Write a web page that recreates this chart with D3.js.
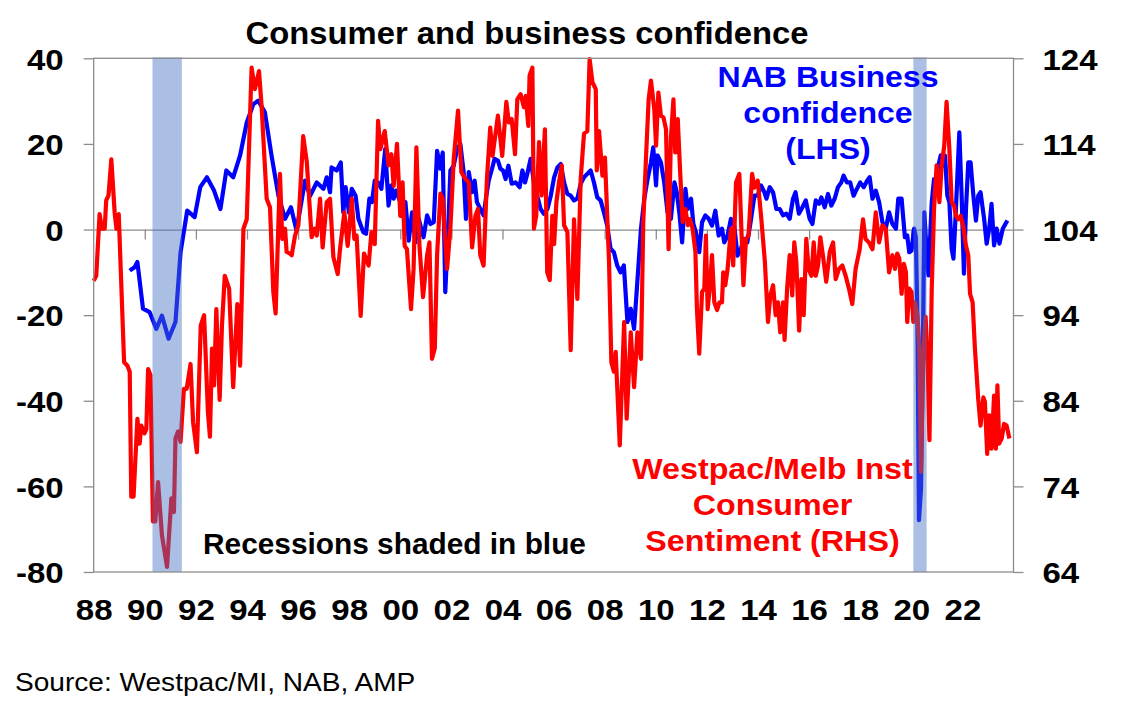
<!DOCTYPE html>
<html>
<head>
<meta charset="utf-8">
<script src="https://cdn.jsdelivr.net/npm/d3@7"></script>
<style>
  body { margin: 0; background: #fff; }
  text { font-family: "Liberation Sans", Arial, sans-serif; }
</style>
</head>
<body>
<svg id="chart" width="1124" height="712"></svg>
<script>
// Westpac/Melb Inst consumer sentiment (RHS index)
const sentimentYears = [
  1988.00,1988.10,1988.23,1988.32,1988.43,1988.49,1988.58,1988.69,1988.82,1988.89,1988.98,
  1989.19,1989.32,1989.41,1989.47,1989.56,1989.71,1989.80,1989.86,1989.99,
  1990.06,1990.13,1990.22,1990.32,1990.41,1990.52,1990.67,1990.87,
  1991.04,1991.14,1991.20,1991.30,1991.40,1991.53,1991.64,1991.79,1991.89,
  1992.04,1992.19,1992.32,1992.47,1992.55,1992.63,1992.71,1992.80,1992.93,
  1993.02,1993.13,1993.30,1993.46,1993.62,1993.73,1993.86,1993.99,
  1994.18,1994.31,1994.47,1994.57,1994.77,1994.90,
  1995.03,1995.12,1995.29,1995.38,1995.49,1995.55,1995.68,1995.75,1995.88,
  1996.01,1996.20,1996.34,1996.53,1996.64,1996.73,1996.86,1996.96,
  1997.12,1997.25,1997.38,1997.55,1997.64,1997.81,1997.94,
  1998.10,1998.20,1998.29,1998.45,1998.58,1998.76,1998.87,
  1999.00,1999.13,1999.22,1999.39,1999.54,1999.65,1999.74,1999.87,
  2000.00,2000.09,2000.17,2000.26,2000.42,2000.52,2000.63,2000.75,2000.89,
  2001.05,2001.14,2001.24,2001.35,2001.44,2001.57,2001.66,2001.83,2001.96,
  2002.09,2002.26,2002.39,2002.55,2002.68,2002.81,2002.94,
  2003.04,2003.13,2003.26,2003.39,2003.52,2003.61,2003.82,2003.99,
  2004.15,2004.25,2004.36,2004.49,2004.58,2004.71,2004.84,2004.91,
  2005.01,2005.06,2005.17,2005.23,2005.32,2005.43,2005.53,2005.66,2005.75,2005.85,2005.95,
  2006.02,2006.11,2006.21,2006.32,2006.41,2006.54,2006.67,2006.80,2006.93,
  2007.06,2007.19,2007.32,2007.41,2007.52,2007.65,2007.69,2007.78,2007.91,
  2008.01,2008.17,2008.26,2008.36,2008.43,2008.59,2008.76,2008.86,
  2009.02,2009.15,2009.28,2009.42,2009.51,2009.62,2009.72,2009.81,2009.94,
  2010.01,2010.10,2010.20,2010.30,2010.40,2010.50,2010.59,2010.69,2010.76,2010.86,2010.95,
  2011.05,2011.16,2011.25,2011.34,2011.44,2011.55,2011.61,2011.70,2011.81,2011.90,2011.96,
  2012.03,2012.12,2012.20,2012.29,2012.40,2012.49,2012.59,2012.64,2012.72,2012.81,2012.94,
  2013.03,2013.14,2013.27,2013.43,2013.53,2013.63,2013.77,2013.86,2013.99,
  2014.12,2014.27,2014.39,2014.48,2014.59,2014.69,2014.78,2014.87,2014.98,
  2015.04,2015.14,2015.24,2015.34,2015.42,2015.50,2015.61,2015.70,2015.79,2015.89,2015.98,
  2016.09,2016.18,2016.26,2016.35,2016.44,2016.54,2016.67,2016.81,2016.94,
  2017.04,2017.17,2017.30,2017.43,2017.56,2017.69,2017.82,2017.98,
  2018.11,2018.21,2018.34,2018.48,2018.61,2018.74,2018.87,
  2019.00,2019.13,2019.26,2019.36,2019.45,2019.53,2019.62,2019.71,2019.79,2019.84,2019.92,
  2020.01,2020.08,2020.14,2020.24,2020.31,2020.38,2020.47,2020.56,2020.64,2020.71,2020.80,2020.89,2020.99,
  2021.10,2021.19,2021.29,2021.38,2021.49,2021.58,2021.67,2021.75,2021.84,2021.93,
  2022.04,2022.14,2022.23,2022.30,2022.40,2022.49,2022.62,2022.71,2022.82,2022.88,2022.97,
  2023.05,2023.14,2023.24,2023.31,2023.37,2023.44,2023.54,2023.63,2023.73,2023.84
];
const sentimentIndex = [
  98.0,98.6,105.8,104.1,104.1,107.4,108.0,112.2,106.0,104.1,105.8,
  88.5,88.1,87.4,72.8,72.8,81.9,79.0,81.1,80.2,
  80.7,87.7,87.0,69.9,69.9,74.5,68.3,64.6,
  72.6,71.0,79.6,80.4,79.2,85.4,85.4,88.3,81.5,
  78.0,92.8,94.0,82.7,79.8,90.1,85.8,94.7,84.1,
  92.8,98.6,97.1,85.6,95.3,88.1,104.1,105.2,
  122.9,120.4,122.5,118.5,107.6,106.6,
  96.7,94.2,110.5,102.9,104.1,101.4,101.2,101.0,103.3,
  104.5,114.9,111.9,103.1,104.1,103.3,107.6,101.9,
  107.2,107.6,100.8,98.8,101.7,106.0,102.1,
  107.6,102.9,103.3,93.9,101.2,99.8,103.7,
  102.3,116.7,113.4,115.5,111.5,112.8,109.1,114.0,
  105.6,109.5,102.1,101.7,94.7,99.4,113.6,102.1,96.1,
  101.0,102.5,88.9,90.1,101.0,108.2,107.6,99.4,104.1,
  112.2,117.9,110.7,109.9,109.5,101.9,105.6,
  106.4,101.0,99.8,109.9,115.9,112.6,117.3,112.6,
  118.9,116.5,116.9,112.8,119.2,119.8,118.3,119.6,
  116.1,122.0,122.9,104.1,105.6,114.2,108.0,115.7,99.0,98.1,105.6,
  102.3,107.2,109.5,111.5,104.5,103.7,89.9,105.2,95.9,
  109.9,115.2,115.5,123.9,121.2,120.4,110.9,115.5,110.3,
  112.4,100.2,88.5,87.4,89.7,78.8,93.2,81.9,
  92.0,85.6,92.0,88.9,104.9,112.6,119.2,121.4,118.1,
  113.8,120.0,117.3,117.1,115.7,101.7,114.6,119.2,113.0,116.9,110.9,
  104.9,106.4,104.5,105.2,104.1,101.4,94.7,89.5,96.7,97.1,103.3,
  94.7,97.5,101.0,95.5,94.6,95.5,95.5,99.0,97.5,99.4,104.1,
  99.8,109.5,110.5,97.5,102.9,103.3,110.5,108.9,109.7,
  105.6,100.2,93.2,96.3,97.5,94.0,95.5,92.0,95.5,
  91.1,97.1,101.0,96.3,102.5,100.2,92.2,98.2,94.0,102.9,99.4,
  98.6,102.5,98.6,99.8,103.1,101.0,97.9,101.4,102.5,
  98.2,99.4,99.8,98.6,97.1,95.3,99.4,101.7,
  105.2,102.9,102.5,101.7,106.0,102.5,104.5,
  104.1,99.0,101.0,99.4,101.2,100.6,96.5,100.0,99.0,93.2,97.1,
  96.7,93.2,95.5,94.0,90.5,75.7,89.3,93.8,88.5,79.4,97.1,106.4,111.5,
  107.2,111.5,113.8,118.9,113.4,107.2,106.8,105.6,105.2,105.6,
  104.3,102.1,101.0,96.5,95.5,90.1,84.2,81.1,84.4,83.9,77.8,
  82.3,78.4,84.6,78.4,85.8,79.0,79.6,81.3,81.1,79.6
];

// NAB business confidence (LHS net balance)
const confidenceYears = [
  1989.41,1989.60,1989.71,1989.93,1990.19,1990.45,1990.67,1990.93,1991.20,1991.40,1991.66,1991.95,
  1992.17,1992.43,1992.71,1992.96,1993.19,1993.46,1993.73,1993.99,1994.25,1994.44,1994.70,1994.96,
  1995.23,1995.49,1995.72,1995.94,1996.27,1996.47,1996.73,1996.99,1997.12,1997.25,1997.31,1997.51,
  1997.67,1997.77,1997.86,1997.99,1998.10,1998.25,1998.36,1998.55,1998.66,1998.79,1998.89,
  1999.00,1999.13,1999.26,1999.41,1999.54,1999.65,1999.74,1999.83,
  2000.00,2000.20,2000.33,2000.46,2000.59,2000.72,2000.91,
  2001.05,2001.18,2001.31,2001.44,2001.57,2001.66,2001.76,2001.87,2001.96,
  2002.09,2002.22,2002.35,2002.48,2002.57,2002.68,2002.81,2002.91,
  2003.00,2003.13,2003.26,2003.35,2003.46,2003.59,2003.69,2003.82,2003.92,
  2004.02,2004.12,2004.23,2004.36,2004.51,2004.67,2004.78,2004.88,2004.97,
  2005.10,2005.23,2005.36,2005.49,2005.62,2005.76,2005.89,
  2006.02,2006.15,2006.28,2006.41,2006.54,2006.67,2006.80,2006.93,
  2007.06,2007.19,2007.32,2007.45,2007.58,2007.71,2007.84,2007.97,
  2008.10,2008.23,2008.36,2008.49,2008.62,2008.75,2008.89,
  2009.02,2009.15,2009.28,2009.42,2009.55,2009.68,2009.81,2009.90,
  2010.01,2010.07,2010.20,2010.33,2010.46,2010.59,2010.73,2010.82,2010.92,
  2011.03,2011.16,2011.25,2011.38,2011.47,2011.57,2011.70,2011.81,2011.94,
  2012.07,2012.20,2012.33,2012.46,2012.59,2012.68,2012.81,2012.94,
  2013.07,2013.20,2013.33,2013.45,2013.58,2013.71,2013.86,2013.99,
  2014.12,2014.25,2014.33,2014.46,2014.59,2014.72,2014.85,2014.98,
  2015.11,2015.24,2015.37,2015.47,2015.60,2015.74,2015.87,
  2016.02,2016.13,2016.26,2016.39,2016.48,2016.61,2016.74,2016.87,
  2017.00,2017.13,2017.26,2017.35,2017.48,2017.61,2017.74,2017.87,
  2018.00,2018.14,2018.27,2018.37,2018.48,2018.61,2018.74,2018.87,
  2019.00,2019.13,2019.26,2019.40,2019.49,2019.62,2019.75,2019.84,2019.92,
  2020.01,2020.11,2020.18,2020.24,2020.30,2020.38,2020.45,2020.51,2020.60,2020.67,2020.73,2020.80,2020.89,2020.99,
  2021.06,2021.15,2021.25,2021.32,2021.41,2021.49,2021.58,2021.65,2021.74,2021.88,2021.97,
  2022.06,2022.14,2022.23,2022.32,2022.43,2022.53,2022.62,2022.71,2022.85,2022.95,
  2023.05,2023.14,2023.24,2023.34,2023.45,2023.58,2023.76
];
const confidenceNet = [
  -9.6,-8.8,-7.6,-18.5,-19.3,-23.2,-20.1,-25.5,-21.6,-5.3,4.4,2.9,
  9.9,12.2,9.1,4.8,13.8,12.2,17.3,25.0,29.3,30.1,27.4,17.3,
  7.9,2.5,5.2,-0.2,11.4,7.9,11.0,9.5,12.2,8.7,14.5,13.8,
  15.7,4.0,9.9,4.0,9.5,7.9,2.5,-0.6,-1.0,7.2,6.4,
  11.4,11.0,9.5,18.8,5.6,10.3,7.2,9.1,
  6.4,6.4,-2.6,4.0,-3.0,2.5,-1.8,
  3.3,1.3,1.7,18.4,14.2,18.0,-14.6,-0.6,13.8,
  14.9,18.8,20.0,13.4,2.5,13.4,8.7,11.4,
  6.4,4.8,3.3,7.2,11.4,14.2,16.5,16.1,14.2,
  13.8,11.8,14.9,10.7,11.0,9.9,13.8,11.0,13.0,
  16.5,11.0,7.9,4.8,3.7,4.8,7.9,
  12.2,14.5,15.3,11.0,8.3,7.9,6.8,7.2,
  10.7,12.2,13.0,13.8,11.0,7.5,6.8,4.0,
  0.9,-4.5,-5.3,-8.4,-10.0,-8.4,-21.6,
  -18.5,-23.2,-12.0,0.2,7.2,11.8,15.7,19.2,
  10.3,17.3,15.7,11.0,4.0,2.5,11.0,8.7,4.0,
  -3.0,9.5,4.8,7.2,1.3,-0.6,-5.3,1.7,3.3,
  2.5,0.9,4.4,-1.4,0.2,-3.0,-1.4,2.5,
  0.9,-6.1,-4.5,-2.2,-3.0,1.7,7.9,7.9,
  10.3,8.7,7.2,9.9,8.7,4.8,4.8,3.3,
  3.7,2.5,7.2,8.7,3.7,5.2,6.8,
  2.5,1.3,6.8,6.0,7.5,5.2,8.3,5.6,
  7.2,9.9,11.0,12.6,11.0,11.0,7.9,9.5,
  11.0,9.9,11.4,12.2,7.2,9.1,6.4,1.7,
  0.2,4.0,1.3,0.2,7.2,7.2,-1.8,-1.4,-5.3,
  -4.9,0.2,-1.8,-21.6,-67.9,-60.5,-29.4,4.0,-5.3,-10.7,-3.0,6.4,11.8,11.0,
  14.9,17.3,14.9,17.3,7.9,6.4,-4.5,-6.8,4.0,22.7,7.9,
  -10.3,4.8,15.7,15.7,7.9,2.1,7.9,8.7,2.5,-3.3,
  0.2,6.0,-3.7,0.2,-3.3,0.2,2.1
];

// recessions (start, end) in decimal years
const recessions = [[1990.30, 1991.45], [2020.08, 2020.60]];

// axis ticks and labels
const leftTicks = [-80, -60, -40, -20, 0, 20, 40];
const rightTicks = [64, 74, 84, 94, 104, 114, 124];
const tickYears = [1988, 1990, 1992, 1994, 1996, 1998, 2000, 2002, 2004, 2006, 2008,
                   2010, 2012, 2014, 2016, 2018, 2020, 2022];
const yearLabels = ["88", "90", "92", "94", "96", "98", "00", "02", "04", "06", "08",
                    "10", "12", "14", "16", "18", "20", "22"];

if (sentimentYears.length !== sentimentIndex.length) throw new Error("sentiment " + sentimentYears.length + " vs " + sentimentIndex.length);
if (confidenceYears.length !== confidenceNet.length) throw new Error("confidence " + confidenceYears.length + " vs " + confidenceNet.length);

const svg = d3.select("#chart");
const gray = "#8c8c8c";

const plotLeft = 93.7, plotRight = 1013.5, plotTop = 58.3, plotBottom = 572;

const x = d3.scaleLinear().domain([1988, 2024]).range([plotLeft, plotRight]);
const yL = d3.scaleLinear().domain([-80, 40]).range([plotBottom, plotTop]);
const yR = d3.scaleLinear().domain([64, 124]).range([plotBottom, plotTop]);

svg.append("rect").attr("width", 1124).attr("height", 712).attr("fill", "#fff");

// text with the slight horizontal stretch of the original export
function label(xp, yp, str, o) {
  return svg.append("text")
    .attr("transform", `translate(${xp},${yp}) scale(${o.sx || 1},1)`)
    .attr("text-anchor", o.anchor || "start")
    .attr("font-size", o.size || 30)
    .attr("font-weight", o.weight || "bold")
    .attr("fill", o.fill || "#000")
    .text(str);
}

// zero line with the year ticks hanging under it
svg.append("g")
  .attr("transform", `translate(0,${yL(0)})`)
  .call(d3.axisBottom(x).tickValues(tickYears.slice(1)).tickSize(10).tickSizeOuter(0).tickFormat(""))
  .call(g => g.select(".domain").attr("stroke", gray).attr("stroke-width", 1.3))
  .call(g => g.selectAll(".tick line").attr("stroke", gray).attr("stroke-width", 1.3));

// series
const lineL = d3.line().x(d => x(d[0])).y(d => yL(d[1]));
const lineR = d3.line().x(d => x(d[0])).y(d => yR(d[1]));

svg.append("path")
  .datum(d3.zip(confidenceYears, confidenceNet))
  .attr("d", lineL)
  .attr("fill", "none").attr("stroke", "#0000ff")
  .attr("stroke-width", 4.2).attr("stroke-linejoin", "round");

svg.append("path")
  .datum(d3.zip(sentimentYears, sentimentIndex))
  .attr("d", lineR)
  .attr("fill", "none").attr("stroke", "#ff0000")
  .attr("stroke-width", 4.2).attr("stroke-linejoin", "round");

// recession shading sits over the lines
svg.selectAll(".rec")
  .data(recessions)
  .join("rect")
  .attr("x", d => x(d[0]))
  .attr("width", d => x(d[1]) - x(d[0]))
  .attr("y", plotTop - 1)
  .attr("height", plotBottom - plotTop + 1)
  .attr("fill", "#4472c4").attr("fill-opacity", 0.45);

// plot frame
svg.append("rect")
  .attr("x", plotLeft).attr("y", plotTop)
  .attr("width", plotRight - plotLeft).attr("height", plotBottom - plotTop)
  .attr("fill", "none").attr("stroke", gray).attr("stroke-width", 1.3);

// left axis
const axL = svg.append("g")
  .attr("transform", `translate(${plotLeft},0)`)
  .call(d3.axisLeft(yL).tickValues(leftTicks).tickSize(10).tickPadding(20).tickFormat(d => String(d)));
axL.select(".domain").remove();
axL.selectAll(".tick line").attr("stroke", gray).attr("stroke-width", 1.3);
axL.selectAll(".tick text")
  .attr("x", -30 / 1.1).attr("dy", "0.36em")
  .attr("transform", "scale(1.1,1)")
  .attr("font-family", null).attr("font-size", 30).attr("font-weight", "bold").attr("fill", "#000");

// right axis
const axR = svg.append("g")
  .attr("transform", `translate(${plotRight},0)`)
  .call(d3.axisRight(yR).tickValues(rightTicks).tickSize(10).tickPadding(19).tickFormat(d => String(d)));
axR.select(".domain").remove();
axR.selectAll(".tick line").attr("stroke", gray).attr("stroke-width", 1.3);
axR.selectAll(".tick text")
  .attr("x", 29 / 1.1).attr("dy", "0.36em")
  .attr("transform", "scale(1.1,1)")
  .attr("font-family", null).attr("font-size", 30).attr("font-weight", "bold").attr("fill", "#000");

// year labels under the frame
const axX = svg.append("g")
  .attr("transform", `translate(0,${plotBottom})`)
  .call(d3.axisBottom(x).tickValues(tickYears).tickSize(0).tickPadding(27)
    .tickFormat((d, i) => yearLabels[i]));
axX.select(".domain").remove();
axX.selectAll(".tick text")
  .attr("transform", "scale(1.1,1)")
  .attr("font-family", null).attr("font-size", 30).attr("font-weight", "bold").attr("fill", "#000");

// title, notes and series labels
label(527, 44, "Consumer and business confidence", {anchor: "middle", size: 30.5, sx: 1.075});

label(828, 87, "NAB Business", {anchor: "middle", sx: 1.07, fill: "#0000ff"});
label(828, 123, "confidence", {anchor: "middle", sx: 1.07, fill: "#0000ff"});
label(828, 159, "(LHS)", {anchor: "middle", sx: 1.07, fill: "#0000ff"});

label(772.5, 479, "Westpac/Melb Inst", {anchor: "middle", sx: 1.075, fill: "#ff0000"});
label(772.5, 515, "Consumer", {anchor: "middle", sx: 1.075, fill: "#ff0000"});
label(772.5, 551, "Sentiment (RHS)", {anchor: "middle", sx: 1.075, fill: "#ff0000"});

label(203, 554, "Recessions shaded in blue", {sx: 0.995});

label(15, 691, "Source: Westpac/MI, NAB, AMP", {size: 26, weight: "normal", sx: 1.08});
</script>
</body>
</html>
